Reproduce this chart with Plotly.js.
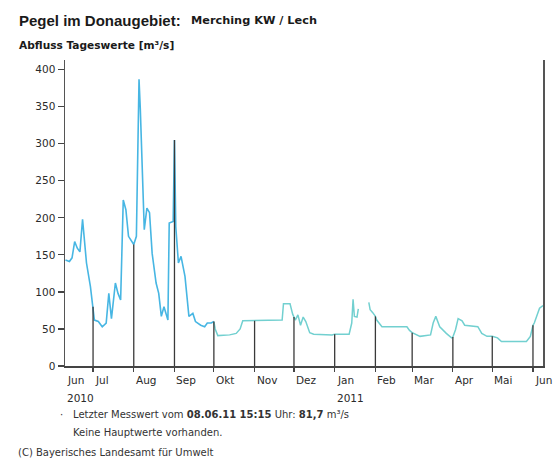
<!DOCTYPE html>
<html>
<head>
<meta charset="utf-8">
<script src="https://cdn.plot.ly/plotly-3.0.1.min.js"></script>
<style>html,body{margin:0;padding:0;background:#fff;}#chart{width:554px;height:461px;}</style>
</head>
<body>
<div id="chart"></div>
<script>
// Daily discharge readings (m³/s)
const dates = [
 '2010-06-10','2010-06-13','2010-06-15','2010-06-17','2010-06-19','2010-06-21','2010-06-23','2010-06-24','2010-06-26','2010-06-29',
 '2010-07-01','2010-07-02','2010-07-05','2010-07-08','2010-07-11','2010-07-13','2010-07-15','2010-07-18','2010-07-20','2010-07-22',
 '2010-07-24','2010-07-26','2010-07-28','2010-07-30',
 '2010-08-01','2010-08-03','2010-08-05','2010-08-06','2010-08-08','2010-08-09','2010-08-11','2010-08-13','2010-08-15','2010-08-18',
 '2010-08-20','2010-08-22','2010-08-24','2010-08-26','2010-08-27','2010-08-28','2010-08-31',
 '2010-09-01','2010-09-02','2010-09-04','2010-09-06','2010-09-09','2010-09-12','2010-09-15','2010-09-17','2010-09-21','2010-09-24',
 '2010-09-26','2010-09-29',
 '2010-10-01','2010-10-02','2010-10-04','2010-10-13','2010-10-18','2010-10-21','2010-10-23',
 '2010-11-01','2010-11-13','2010-11-22','2010-11-23','2010-11-28','2010-11-30',
 '2010-12-01','2010-12-02','2010-12-04','2010-12-06','2010-12-08','2010-12-10','2010-12-13','2010-12-16','2010-12-30',
 '2011-01-01','2011-01-12','2011-01-14','2011-01-15','2011-01-16','2011-01-18','2011-01-19','2011-01-20','2011-01-27','2011-01-28','2011-01-30',
 '2011-02-01','2011-02-02','2011-02-05','2011-02-06','2011-02-25','2011-02-27',
 '2011-03-01','2011-03-07','2011-03-15','2011-03-17','2011-03-19','2011-03-22','2011-03-27','2011-03-31',
 '2011-04-01','2011-04-03','2011-04-05','2011-04-08','2011-04-10','2011-04-20','2011-04-23','2011-04-27',
 '2011-05-01','2011-05-05','2011-05-08','2011-05-27','2011-05-30',
 '2011-06-01','2011-06-02','2011-06-04','2011-06-06','2011-06-08 15:15'
];
const values = [
 143,141,146,168,159,154,198,180,139,107,
 80,62,60,53,58,98,64,112,98,89,
 224,211,175,170,
 164,175,387,346,224,184,213,207,152,112,
 98,67,80,67,62,193,195,
 305,188,139,148,121,67,71,60,55,53,
 58,58,
 60,50,41,42,44,50,61,
 61,61,62,84,84,70,
 66,62,69,55,66,60,45,43,42,
 43,43,58,90,67,66,77,null,86,76,72,
 67,62,55,53,53,48,
 45,40,42,58,67,53,44,38,
 39,49,64,61,55,53,44,40,
 40,38,33,33,40,
 55,58,69,78,81.7
];

const monthStarts = ['2010-07-01','2010-08-01','2010-09-01','2010-10-01','2010-11-01','2010-12-01',
  '2011-01-01','2011-02-01','2011-03-01','2011-04-01','2011-05-01','2011-06-01'];
const monthLabels = ['Jul','Aug','Sep','Okt','Nov','Dez','Jan','Feb','Mar','Apr','Mai','Jun'];
const firstLabel = 'Jun';
const yearLabels = ['2010','2011'];
const yTicks = [0,50,100,150,200,250,300,350,400];
const xStart = '2010-06-09 15:15';
const xEnd = '2011-06-08 15:15';

// split line in two colour parts at Okt 1
const splitIdx = dates.indexOf('2010-10-01');
const summer = {x: dates.slice(0, splitIdx+1), y: values.slice(0, splitIdx+1)};
const rest = {x: dates.slice(splitIdx), y: values.slice(splitIdx)};

// month-start drop lines, values from the data
const dropX = [], dropY = [];
monthStarts.forEach(d => {
  const i = dates.indexOf(d);
  if (i >= 0 && values[i] != null) { dropX.push(d, d, null); dropY.push(0, values[i], null); }
});

const traces = [
  {x: summer.x, y: summer.y, type: 'scatter', mode: 'lines', line: {color: '#47b6e3', width: 1.6}, connectgaps: false, hoverinfo: 'skip'},
  {x: rest.x, y: rest.y, type: 'scatter', mode: 'lines', line: {color: '#72d0d0', width: 1.5}, connectgaps: false, hoverinfo: 'skip'},
  {x: dropX, y: dropY, type: 'scatter', mode: 'lines', line: {color: '#3a3a3a', width: 1.3}, hoverinfo: 'skip'}
];

const L = 65, R = 543, T = 60, B = 366;
const px = v => (v - L) / (R - L);
const py = v => (B - v) / (B - T);
const tickFont = {family: 'DejaVu Sans', size: 10.5, color: '#2a2a2a'};

const annotations = [];
annotations.push({xref: 'x', yref: 'paper', x: xStart, y: py(380), text: firstLabel, showarrow: false, xanchor: 'left', yanchor: 'middle', font: tickFont});
monthStarts.forEach((d, i) => {
  annotations.push({xref: 'x', yref: 'paper', x: d, y: py(380), text: monthLabels[i], showarrow: false, xanchor: 'left', yanchor: 'middle', font: tickFont});
});
annotations.push({xref: 'x', yref: 'paper', x: xStart, y: py(398), text: yearLabels[0], showarrow: false, xanchor: 'left', yanchor: 'middle', font: tickFont});
annotations.push({xref: 'x', yref: 'paper', x: '2011-01-01', y: py(398), text: yearLabels[1], showarrow: false, xanchor: 'left', yanchor: 'middle', font: tickFont});

annotations.push({xref: 'paper', yref: 'paper', x: px(17), y: py(20), text: '<b>Pegel im Donaugebiet:</b>', showarrow: false, xanchor: 'left', yanchor: 'middle', font: {family: 'Liberation Sans', size: 15, color: '#1a1a1a'}});
annotations.push({xref: 'paper', yref: 'paper', x: px(189), y: py(20.5), text: '<b>Merching KW / Lech</b>', showarrow: false, xanchor: 'left', yanchor: 'middle', font: {family: 'DejaVu Sans', size: 11.3, color: '#1a1a1a'}});
annotations.push({xref: 'paper', yref: 'paper', x: px(17), y: py(45.5), text: '<b>Abfluss Tageswerte [m³/s]</b>', showarrow: false, xanchor: 'left', yanchor: 'middle', font: {family: 'DejaVu Sans', size: 10.6, color: '#1a1a1a'}});

const noteFont = {family: 'DejaVu Sans', size: 10, color: '#333'};
annotations.push({xref: 'paper', yref: 'paper', x: px(58), y: py(415), text: '·', showarrow: false, xanchor: 'left', yanchor: 'middle', font: noteFont});
annotations.push({xref: 'paper', yref: 'paper', x: px(71), y: py(415), text: 'Letzter Messwert vom <b>08.06.11 15:15</b> Uhr: <b>81,7</b> m³/s', showarrow: false, xanchor: 'left', yanchor: 'middle', font: noteFont});
annotations.push({xref: 'paper', yref: 'paper', x: px(71), y: py(432), text: 'Keine Hauptwerte vorhanden.', showarrow: false, xanchor: 'left', yanchor: 'middle', font: noteFont});
annotations.push({xref: 'paper', yref: 'paper', x: px(16), y: py(453), text: '(C) Bayerisches Landesamt für Umwelt', showarrow: false, xanchor: 'left', yanchor: 'middle', font: noteFont});

const layout = {
  width: 554, height: 461,
  margin: {l: L, r: 554 - R, t: T, b: 461 - B, pad: 0},
  paper_bgcolor: '#fff', plot_bgcolor: '#fff',
  showlegend: false,
  xaxis: {
    type: 'date', range: [xStart, xEnd], showgrid: false, zeroline: false,
    showline: true, linecolor: '#444', linewidth: 1.5,
    tickmode: 'array', tickvals: monthStarts, ticks: 'outside', ticklen: 4, tickcolor: '#444', tickwidth: 1.2,
    showticklabels: false, fixedrange: true
  },
  yaxis: {
    range: [0, 413], showgrid: false, zeroline: false,
    showline: true, linecolor: '#555', linewidth: 1.5, mirror: true,
    tickmode: 'array', tickvals: yTicks, ticktext: yTicks.map(String),
    ticks: 'outside', ticklen: 6, tickcolor: '#444', tickwidth: 1.2,
    tickfont: tickFont, fixedrange: true
  },
  annotations: annotations
};

Plotly.newPlot('chart', traces, layout, {displayModeBar: false, staticPlot: true});
</script>
</body>
</html>
